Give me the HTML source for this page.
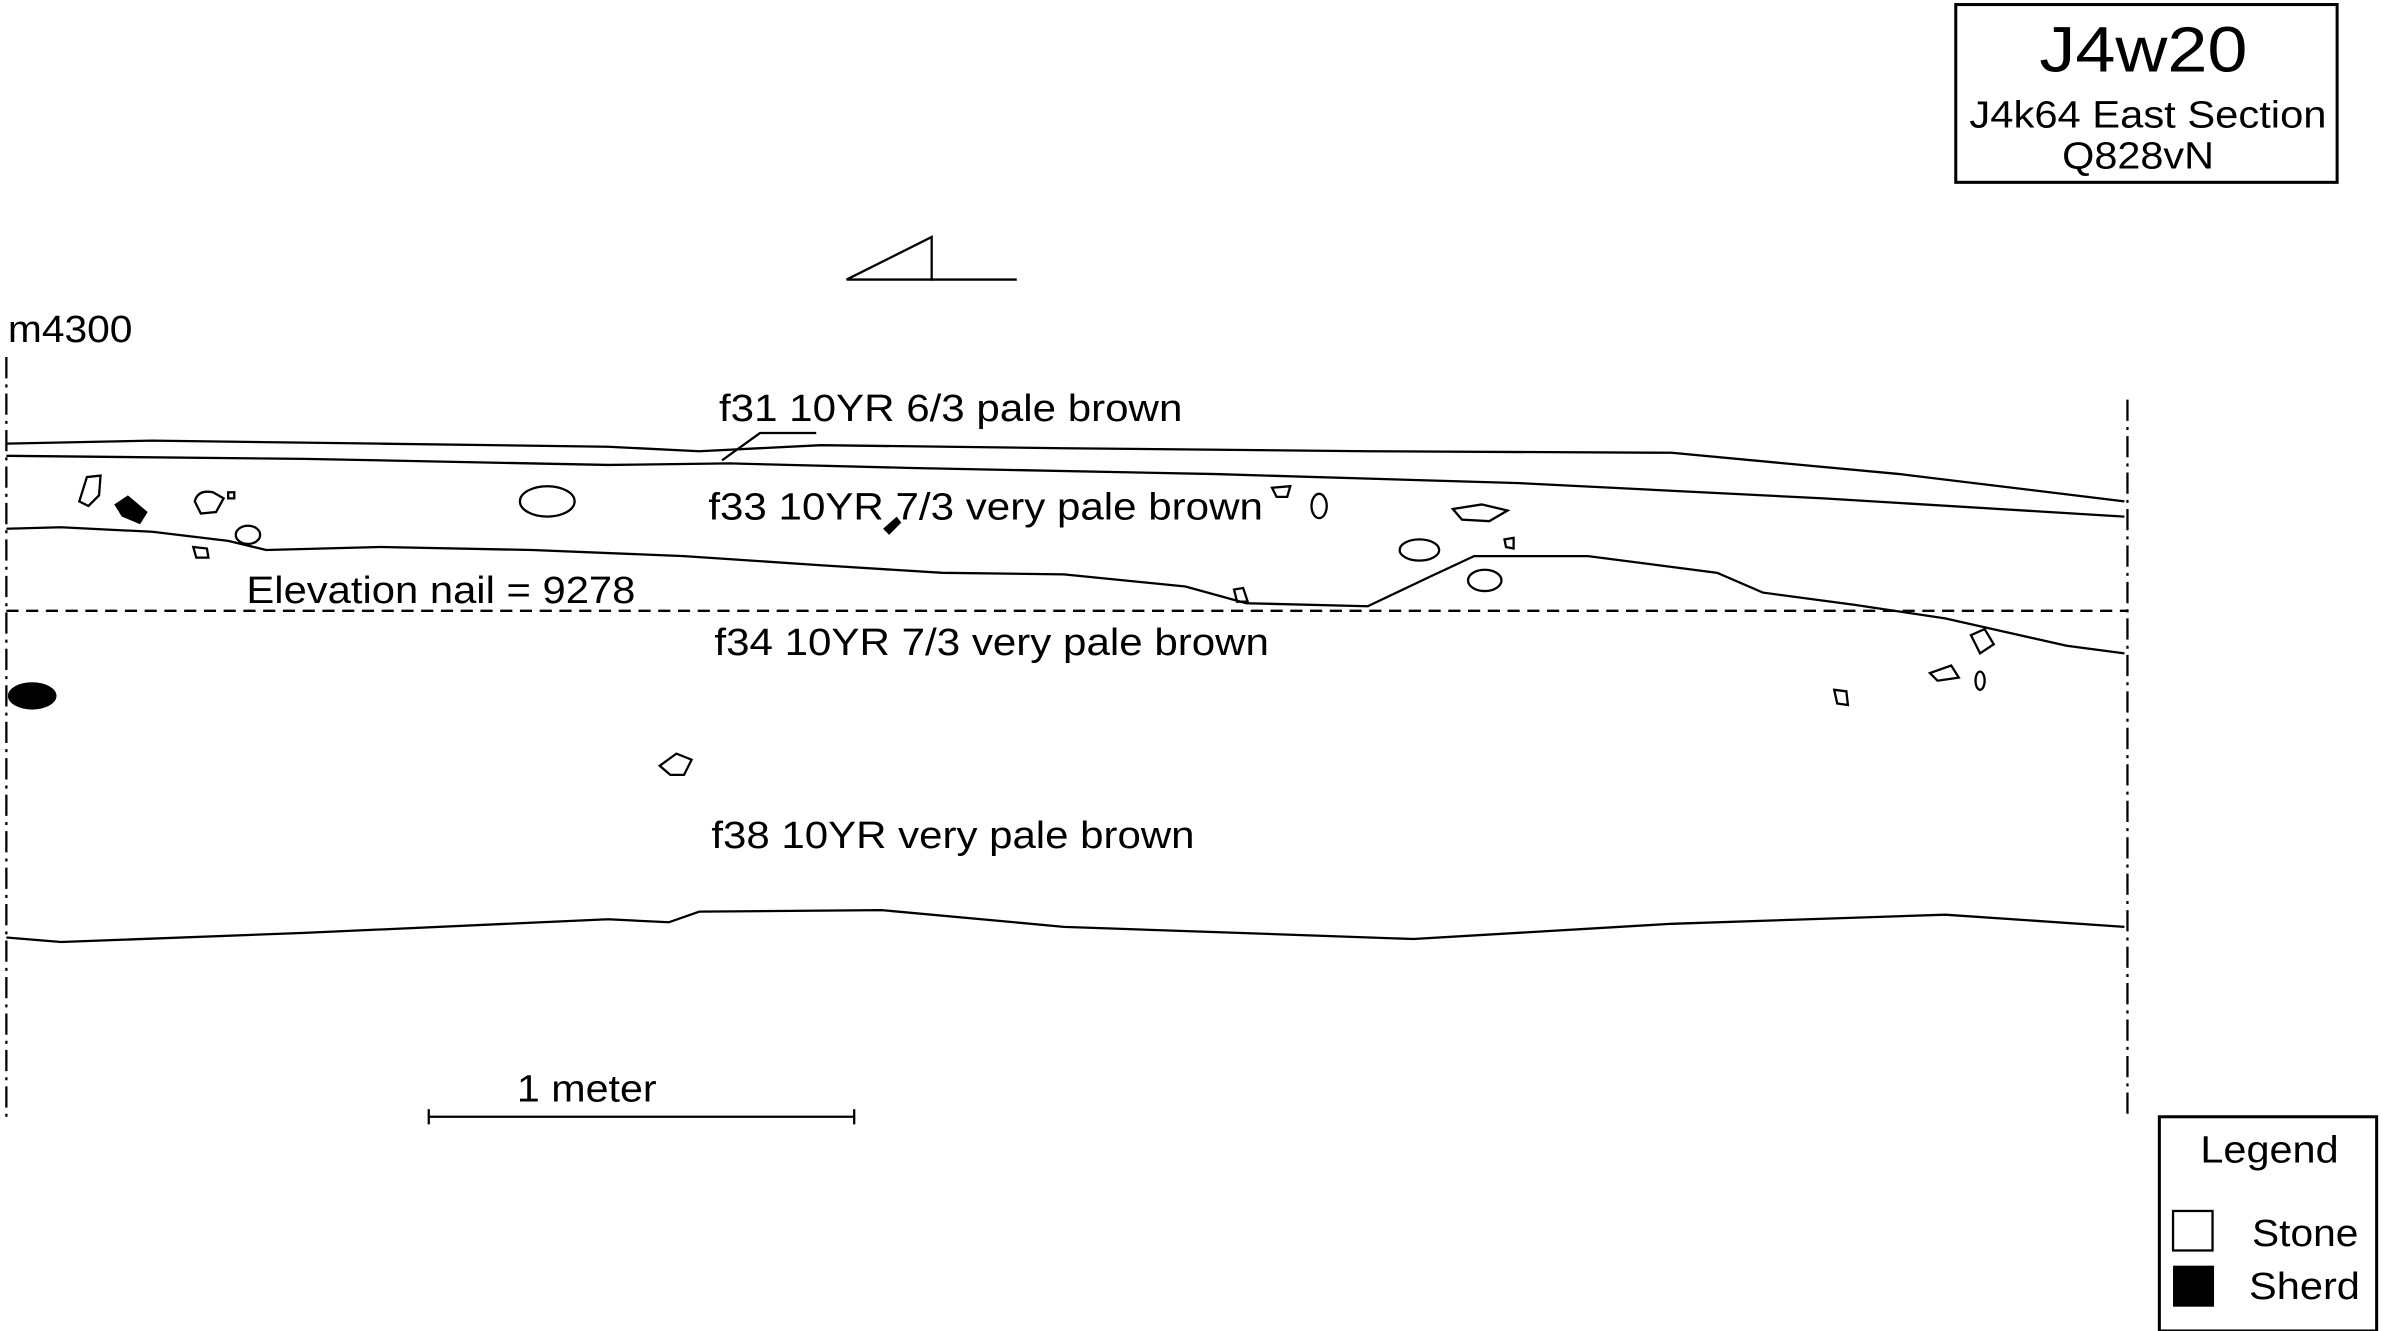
<!DOCTYPE html>
<html><head><meta charset="utf-8"><style>
html,body{margin:0;padding:0;background:#fff;}
svg{display:block;}
text{font-family:"Liberation Sans",sans-serif;fill:#000;}
</style></head><body>
<svg width="2383" height="1331" viewBox="0 0 1568 876" xmlns="http://www.w3.org/2000/svg">
<rect width="1568" height="876" fill="#fff"/>
<g fill="none" stroke="#000" stroke-width="1.5">
<rect x="1287" y="3" width="251" height="117" stroke-width="2"/>
<polygon points="557,184 613,156 613,184"/>
<line x1="613" y1="184" x2="669" y2="184"/>
<line x1="4" y1="235" x2="4" y2="735" stroke-dasharray="14,4,2,4"/>
<line x1="1400" y1="263" x2="1400" y2="735" stroke-dasharray="14,4,2,4"/>
<polyline points="4,292 100,290 250,292 400,294 460,297 540,293 700,295 900,297 1100,298 1250,312 1398,330"/>
<polyline points="4,300 200,302 400,306 480,305 600,308 800,312 1000,318 1200,328 1398,340"/>
<polyline points="475,303 500,285 537,285"/>
<polyline points="4,348 40,347 100,350 150,356 175,362 250,360 350,362 450,366 540,372 620,377 700,378 780,386 820,397 900,399 940,380 970,366 1045,366 1130,377 1160,390 1220,398 1280,407 1360,425 1398,430"/>
<line x1="4" y1="402" x2="1400" y2="402" stroke-dasharray="8,5"/>
<polyline points="4,617 40,620 200,614 400,605 440,607 460,600 580,599 700,610 930,618 1100,608 1280,602 1398,610"/>
<line x1="282" y1="735" x2="562" y2="735"/>
<line x1="282" y1="730" x2="282" y2="740"/>
<line x1="562" y1="730" x2="562" y2="740"/>
<rect x="1421" y="735" width="143" height="141" stroke-width="2"/>
<rect x="1430" y="797" width="26" height="26"/>
<path d="M52,330 L57,314 L66,313 L65,326 L58,333 Z"/>
<path d="M128,330 Q130,322 140,324 L147,328 L142,337 L132,338 Z"/>
<rect x="150" y="324" width="4" height="4"/>
<ellipse cx="163" cy="352" rx="8" ry="6"/>
<path d="M127,360 L136,361 L137,367 L129,367 Z"/>
<ellipse cx="360" cy="330" rx="18" ry="10"/>
<path d="M837,321 L849,320 L847,327 L840,327 Z"/>
<ellipse cx="868" cy="333" rx="5" ry="8"/>
<path d="M956,335 L975,332 L992,336 L980,343 L962,342 Z"/>
<path d="M990,355 L996,354 L996,361 L991,360 Z"/>
<ellipse cx="934" cy="362" rx="13" ry="7"/>
<ellipse cx="977" cy="382" rx="11" ry="7"/>
<path d="M812,388 L818,387 L821,396 L814,396 Z"/>
<path d="M1297,418 L1306,414 L1312,424 L1303,430 Z"/>
<path d="M1270,443 L1284,438 L1289,446 L1275,448 Z"/>
<ellipse cx="1303" cy="448" rx="3" ry="6"/>
<path d="M1207,454 L1215,455 L1216,464 L1209,463 Z"/>
<path d="M434,504 L445,496 L455,500 L450,510 L441,510 Z"/>
</g>
<g fill="#000">
<ellipse cx="21" cy="458" rx="16" ry="9"/>
<polygon points="75,332 84,326 97,337 92,345 80,340"/>
<polygon points="581,348 590,340 593,344 585,352"/>
<rect x="1430" y="833" width="27" height="27"/>
</g>
<g font-size="25">
<text x="1342" y="47" font-size="42" textLength="137" lengthAdjust="spacingAndGlyphs">J4w20</text>
<text x="1296" y="84" textLength="235" lengthAdjust="spacingAndGlyphs">J4k64 East Section</text>
<text x="1357" y="111" textLength="100" lengthAdjust="spacingAndGlyphs">Q828vN</text>
<text x="5" y="225" textLength="82" lengthAdjust="spacingAndGlyphs">m4300</text>
<text x="473" y="277" textLength="305" lengthAdjust="spacingAndGlyphs">f31 10YR 6/3 pale brown</text>
<text x="466" y="342" textLength="365" lengthAdjust="spacingAndGlyphs">f33 10YR 7/3 very pale brown</text>
<text x="162" y="397" textLength="256" lengthAdjust="spacingAndGlyphs">Elevation nail = 9278</text>
<text x="470" y="431" textLength="365" lengthAdjust="spacingAndGlyphs">f34 10YR 7/3 very pale brown</text>
<text x="468" y="558" textLength="318" lengthAdjust="spacingAndGlyphs">f38 10YR very pale brown</text>
<text x="340" y="725" textLength="92" lengthAdjust="spacingAndGlyphs">1 meter</text>
<text x="1448" y="765" textLength="91" lengthAdjust="spacingAndGlyphs">Legend</text>
<text x="1482" y="820" textLength="70" lengthAdjust="spacingAndGlyphs">Stone</text>
<text x="1480" y="855" textLength="73" lengthAdjust="spacingAndGlyphs">Sherd</text>
</g>
</svg>
</body></html>
